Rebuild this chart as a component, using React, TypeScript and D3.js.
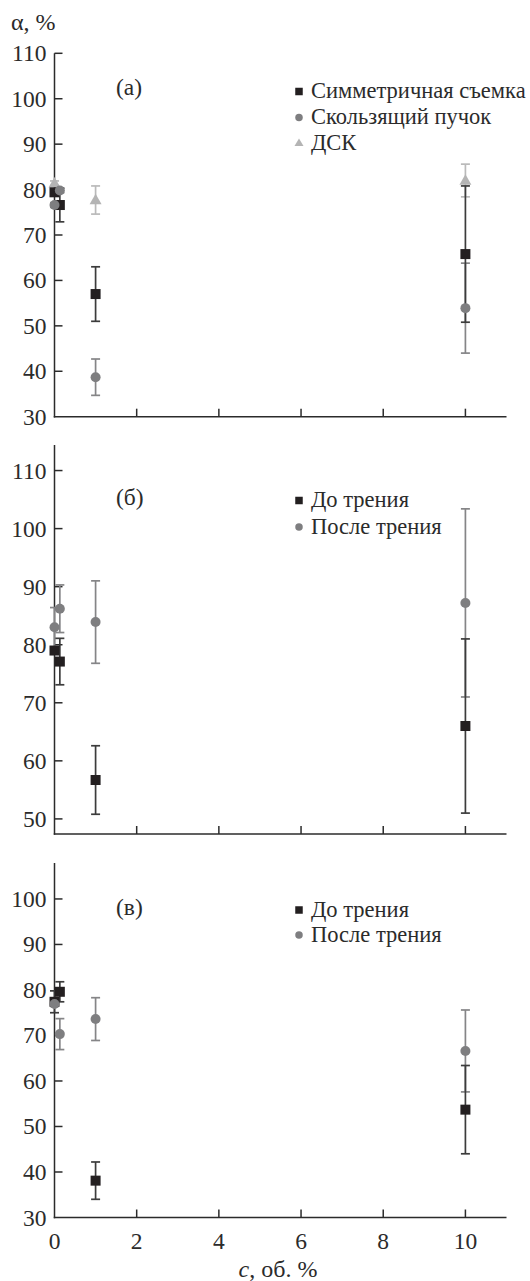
import React from "react";
import * as d3 from "d3";

// ---------- data ----------
const conc = [0, 0.13, 1, 10];
const xTicks = [2, 4, 6, 8, 10];
const xTickLabels = [0, 2, 4, 6, 8, 10];

// panel (а)
const aSymVal = [79.4, 76.6, 57.0, 65.8];
const aSymErr = [0.5, 3.7, 6.0, 15.0];
const aGlideVal = [76.6, 79.8, 38.7, 53.9];
const aGlideErr = [0.5, 0.5, 4.0, 9.9];
const aDscConc = [0, 1, 10];
const aDscVal = [81.4, 77.7, 82.0];
const aDscErr = [0.5, 3.1, 3.6];
const aYTicks = [40, 50, 60, 70, 80, 90, 100, 110];
const aYLabels = [30, 40, 50, 60, 70, 80, 90, 100, 110];
const aLegend = ["Симметричная съемка", "Скользящий пучок", "ДСК"];

// panel (б)
const bBeforeVal = [79.0, 77.1, 56.7, 66.0];
const bBeforeErr = [0.5, 4.0, 5.9, 15.0];
const bAfterVal = [83.0, 86.2, 83.9, 87.2];
const bAfterErr = [3.4, 4.1, 7.1, 16.2];
const bYTicks = [50, 60, 70, 80, 90, 100, 110];
const bYLabels = [50, 60, 70, 80, 90, 100, 110];

// panel (в)
const cBeforeVal = [77.4, 79.6, 38.1, 53.7];
const cBeforeErr = [2.4, 2.2, 4.1, 9.7];
const cAfterVal = [76.9, 70.3, 73.6, 66.6];
const cAfterErr = [0.5, 3.4, 4.7, 9.0];
const cYTicks = [40, 50, 60, 70, 80, 90, 100];
const cYLabels = [30, 40, 50, 60, 70, 80, 90, 100];

const frictionLegend = ["До трения", "После трения"];

// ---------- styles ----------
const FONT = "'Liberation Serif', 'Times New Roman', serif";
const AXIS = "#2b2b2b";
const BLACK = "#231f20";
const GRAY = "#7e7e80";
const LIGHT = "#b4b4b4";
const BLACK_BAR = "#3c3c3c";
const GRAY_BAR = "#858587";
const LIGHT_BAR = "#bababa";
const TICK_FS = 23.5;
const LEGEND_FS = 22.5;

const x = d3.scaleLinear().domain([0, 11]).range([54.5, 506.5]);

type Series = {
  xs: number[];
  vals: number[];
  errs: number[];
  shape: "square" | "circle" | "triangle";
  fill: string;
  bar: string;
};

function ErrorBars({ s, y }: { s: Series; y: d3.ScaleLinear<number, number> }) {
  return (
    <g stroke={s.bar} strokeWidth={1.7} fill="none">
      {s.vals.map((v, i) => {
        const cx = x(s.xs[i]);
        const y1 = y(v - s.errs[i]);
        const y2 = y(v + s.errs[i]);
        return (
          <g key={i}>
            <line x1={cx} x2={cx} y1={y1} y2={y2} />
            <line x1={cx - 4.5} x2={cx + 4.5} y1={y1} y2={y1} />
            <line x1={cx - 4.5} x2={cx + 4.5} y1={y2} y2={y2} />
          </g>
        );
      })}
    </g>
  );
}

function Marker({ shape, cx, cy, size, fill }: { shape: string; cx: number; cy: number; size: number; fill: string }) {
  if (shape === "square")
    return <rect x={cx - size / 2} y={cy - size / 2} width={size} height={size} fill={fill} />;
  if (shape === "circle") return <circle cx={cx} cy={cy} r={size / 2} fill={fill} />;
  const h = size * 0.95;
  return (
    <path
      d={`M${cx},${cy - h * 0.6} L${cx + size / 2 + 0.5},${cy + h * 0.4} L${cx - size / 2 - 0.5},${cy + h * 0.4} Z`}
      fill={fill}
    />
  );
}

function Markers({ s, y }: { s: Series; y: d3.ScaleLinear<number, number> }) {
  return (
    <g>
      {s.vals.map((v, i) => (
        <Marker key={i} shape={s.shape} cx={x(s.xs[i])} cy={y(v)} size={s.shape === "triangle" ? 11 : 10} fill={s.fill} />
      ))}
    </g>
  );
}

function Panel({
  domain,
  range,
  yTicks,
  yLabels,
  series,
  barOrder,
  markerOrder,
  label,
  labelY,
  legend,
  legendY,
  showXLabels,
}: {
  domain: [number, number];
  range: [number, number];
  yTicks: number[];
  yLabels: number[];
  series: Series[];
  barOrder: number[];
  markerOrder: number[];
  label: string;
  labelY: number;
  legend: string[];
  legendY: number[];
  showXLabels: boolean;
}) {
  const y = d3.scaleLinear().domain(domain).range(range);
  const x0 = x.range()[0];
  const x1 = x.range()[1];
  const yb = range[0];
  const yt = range[1];
  return (
    <g>
      {/* axes */}
      <g stroke={AXIS} strokeWidth={1.5}>
        <line x1={x0} x2={x0} y1={yt} y2={yb + 0.75} />
        <line x1={x0 - 0.75} x2={x1} y1={yb} y2={yb} />
        {yTicks.map((t) => (
          <line key={t} x1={x0} x2={x0 + 8} y1={y(t)} y2={y(t)} />
        ))}
        {xTicks.map((t) => (
          <line key={t} x1={x(t)} x2={x(t)} y1={yb} y2={yb - 8} />
        ))}
      </g>
      <g fontFamily={FONT} fontSize={TICK_FS} fill={AXIS} textAnchor="end">
        {yLabels.map((t) => (
          <text key={t} x={x0 - 8} y={y(t) + 8}>
            {t}
          </text>
        ))}
      </g>
      {showXLabels && (
        <g fontFamily={FONT} fontSize={TICK_FS} fill={AXIS} textAnchor="middle">
          {xTickLabels.map((t) => (
            <text key={t} x={x(t)} y={yb + 31}>
              {t}
            </text>
          ))}
        </g>
      )}
      {/* data */}
      {barOrder.map((k) => (
        <ErrorBars key={"b" + k} s={series[k]} y={y} />
      ))}
      {markerOrder.map((k) => (
        <Markers key={"m" + k} s={series[k]} y={y} />
      ))}
      {/* panel label */}
      <text x={116} y={labelY} fontFamily={FONT} fontSize={TICK_FS} fill={AXIS}>
        {label}
      </text>
      {/* legend */}
      <g fontFamily={FONT} fontSize={LEGEND_FS} fill={AXIS}>
        {legend.map((name, i) => (
          <g key={name}>
            <Marker
              shape={series[i].shape}
              cx={299}
              cy={legendY[i] - 6.5}
              size={series[i].shape === "triangle" ? 8 : 7.5}
              fill={series[i].fill}
            />
            <text x={311} y={legendY[i]}>
              {name}
            </text>
          </g>
        ))}
      </g>
    </g>
  );
}

export default function App() {
  const aSeries: Series[] = [
    { xs: conc, vals: aSymVal, errs: aSymErr, shape: "square", fill: BLACK, bar: BLACK_BAR },
    { xs: conc, vals: aGlideVal, errs: aGlideErr, shape: "circle", fill: GRAY, bar: GRAY_BAR },
    { xs: aDscConc, vals: aDscVal, errs: aDscErr, shape: "triangle", fill: LIGHT, bar: LIGHT_BAR },
  ];
  const bSeries: Series[] = [
    { xs: conc, vals: bBeforeVal, errs: bBeforeErr, shape: "square", fill: BLACK, bar: BLACK_BAR },
    { xs: conc, vals: bAfterVal, errs: bAfterErr, shape: "circle", fill: GRAY, bar: GRAY_BAR },
  ];
  const cSeries: Series[] = [
    { xs: conc, vals: cBeforeVal, errs: cBeforeErr, shape: "square", fill: BLACK, bar: BLACK_BAR },
    { xs: conc, vals: cAfterVal, errs: cAfterErr, shape: "circle", fill: GRAY, bar: GRAY_BAR },
  ];
  return (
    <svg
      width={530}
      height={1281}
      style={{ position: "absolute", left: 0, top: 0, background: "#fff" }}
    >
      <rect width={530} height={1281} fill="#fff" />
      <text x={11} y={29.5} fontFamily={FONT} fontSize={24} fill={AXIS}>
        α, %
      </text>
      <Panel
        domain={[30, 110]}
        range={[416.7, 53.3]}
        yTicks={aYTicks}
        yLabels={aYLabels}
        series={aSeries}
        barOrder={[2, 1, 0]}
        markerOrder={[2, 0, 1]}
        label="(а)"
        labelY={95}
        legend={aLegend}
        legendY={[98, 124, 149.5]}
        showXLabels={false}
      />
      <Panel
        domain={[47.4, 114.4]}
        range={[834, 445]}
        yTicks={bYTicks}
        yLabels={bYLabels}
        series={bSeries}
        barOrder={[1, 0]}
        markerOrder={[0, 1]}
        label="(б)"
        labelY={505}
        legend={frictionLegend}
        legendY={[507, 533.5]}
        showXLabels={false}
      />
      <Panel
        domain={[30, 107.9]}
        range={[1217.5, 863]}
        yTicks={cYTicks}
        yLabels={cYLabels}
        series={cSeries}
        barOrder={[1, 0]}
        markerOrder={[0, 1]}
        label="(в)"
        labelY={915}
        legend={frictionLegend}
        legendY={[916.5, 941.5]}
        showXLabels={true}
      />
      <text x={278} y={1277} fontFamily={FONT} fontSize={24} fill={AXIS} textAnchor="middle">
        <tspan fontStyle="italic">c</tspan>, об. %
      </text>
    </svg>
  );
}
